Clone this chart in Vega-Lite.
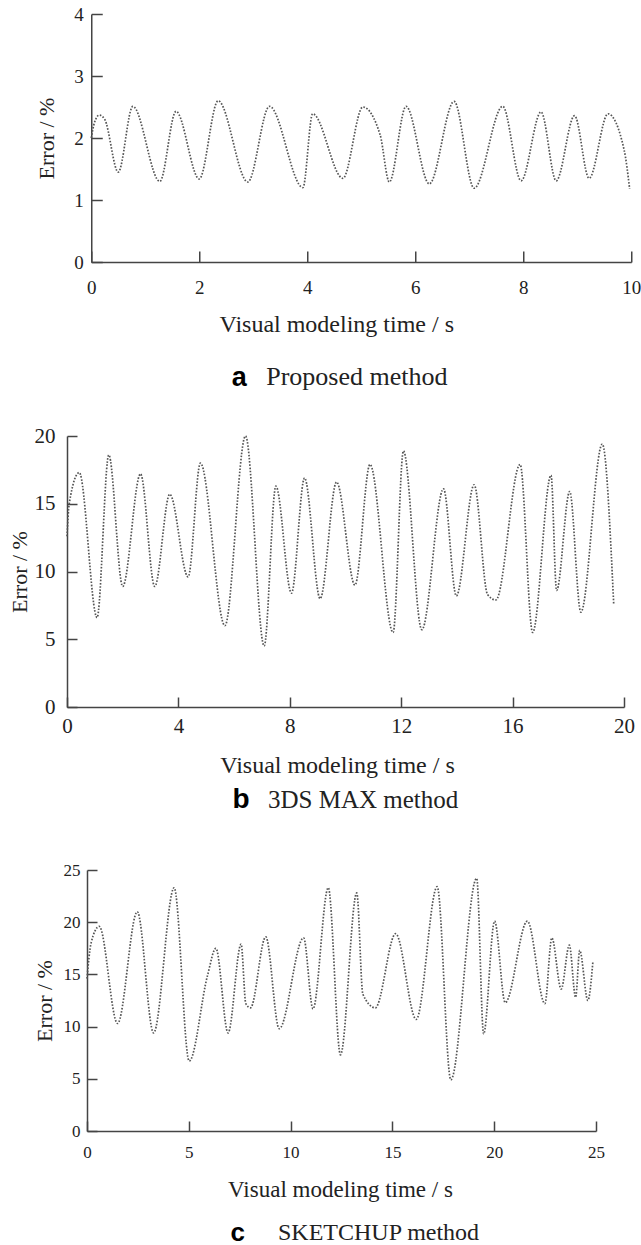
{
  "$schema": "https://vega.github.io/schema/vega-lite/v6.json",
  "background": "white",
  "padding": {"left": 8, "top": 5, "right": 0, "bottom": 0},
  "config": {
    "view": {"stroke": null},
    "font": "Liberation Serif",
    "axis": {
      "grid": false,
      "domainColor": "#444",
      "domainWidth": 1.5,
      "tickColor": "#444",
      "tickWidth": 1.5,
      "labelFont": "Liberation Serif",
      "titleFont": "Liberation Serif",
      "labelColor": "#222",
      "titleColor": "#222",
      "titleFontWeight": "normal",
      "labelFlush": false,
      "labelOverlap": false,
      "labelBound": false
    },
    "line": {"interpolate": "monotone", "color": "#555", "strokeWidth": 1.7, "strokeDash": [1.6, 1.6]}
  },
  "datasets": {
    "a": [
      {"t": 0, "e": 2.0}, {"t": 0.06, "e": 2.25}, {"t": 0.15, "e": 2.37}, {"t": 0.25, "e": 2.3},
      {"t": 0.5, "e": 1.45}, {"t": 0.77, "e": 2.51}, {"t": 1.27, "e": 1.3}, {"t": 1.57, "e": 2.43},
      {"t": 2.0, "e": 1.34}, {"t": 2.35, "e": 2.6}, {"t": 2.9, "e": 1.29}, {"t": 3.3, "e": 2.51},
      {"t": 3.92, "e": 1.2}, {"t": 4.1, "e": 2.39}, {"t": 4.66, "e": 1.35}, {"t": 5.03, "e": 2.5},
      {"t": 5.35, "e": 2.05}, {"t": 5.52, "e": 1.29}, {"t": 5.83, "e": 2.51}, {"t": 6.26, "e": 1.26},
      {"t": 6.72, "e": 2.59}, {"t": 7.09, "e": 1.19}, {"t": 7.62, "e": 2.51}, {"t": 7.96, "e": 1.31},
      {"t": 8.33, "e": 2.42}, {"t": 8.61, "e": 1.31}, {"t": 8.95, "e": 2.36}, {"t": 9.22, "e": 1.35},
      {"t": 9.57, "e": 2.39}, {"t": 9.87, "e": 1.8}, {"t": 9.97, "e": 1.18}
    ],
    "b": [
      {"t": 0, "e": 12.6}, {"t": 0.08, "e": 15.0}, {"t": 0.44, "e": 17.3}, {"t": 1.08, "e": 6.6},
      {"t": 1.5, "e": 18.6}, {"t": 2.0, "e": 8.9}, {"t": 2.64, "e": 17.2}, {"t": 3.15, "e": 8.9},
      {"t": 3.69, "e": 15.7}, {"t": 4.35, "e": 9.6}, {"t": 4.79, "e": 18.0}, {"t": 5.67, "e": 6.0},
      {"t": 6.41, "e": 20.0}, {"t": 7.08, "e": 4.5}, {"t": 7.5, "e": 16.3}, {"t": 8.06, "e": 8.4},
      {"t": 8.53, "e": 16.9}, {"t": 9.09, "e": 8.0}, {"t": 9.68, "e": 16.6}, {"t": 10.34, "e": 9.0},
      {"t": 10.88, "e": 17.9}, {"t": 11.71, "e": 5.5}, {"t": 12.08, "e": 18.9}, {"t": 12.74, "e": 5.7},
      {"t": 13.52, "e": 16.1}, {"t": 13.98, "e": 8.2}, {"t": 14.62, "e": 16.4}, {"t": 15.1, "e": 8.3},
      {"t": 15.4, "e": 7.9}, {"t": 16.27, "e": 17.9}, {"t": 16.72, "e": 5.5}, {"t": 17.38, "e": 17.1},
      {"t": 17.58, "e": 8.6}, {"t": 18.05, "e": 15.9}, {"t": 18.45, "e": 7.0}, {"t": 19.22, "e": 19.4},
      {"t": 19.63, "e": 7.6}
    ],
    "c": [
      {"t": 0, "e": 14.6}, {"t": 0.2, "e": 18.0}, {"t": 0.6, "e": 19.6}, {"t": 1.5, "e": 10.3},
      {"t": 2.47, "e": 21.0}, {"t": 3.27, "e": 9.4}, {"t": 4.28, "e": 23.3}, {"t": 5.02, "e": 6.7},
      {"t": 5.92, "e": 14.9}, {"t": 6.33, "e": 17.5}, {"t": 6.93, "e": 9.4}, {"t": 7.57, "e": 17.9},
      {"t": 7.8, "e": 12.2}, {"t": 8.03, "e": 11.8}, {"t": 8.78, "e": 18.6}, {"t": 9.44, "e": 9.8},
      {"t": 10.64, "e": 18.5}, {"t": 11.1, "e": 11.7}, {"t": 11.85, "e": 23.3}, {"t": 12.45, "e": 7.3},
      {"t": 13.25, "e": 22.8}, {"t": 13.55, "e": 13.1}, {"t": 14.16, "e": 11.8}, {"t": 15.16, "e": 18.9},
      {"t": 16.17, "e": 10.7}, {"t": 17.2, "e": 23.4}, {"t": 17.87, "e": 4.9}, {"t": 19.14, "e": 24.2},
      {"t": 19.48, "e": 9.3}, {"t": 20.02, "e": 20.1}, {"t": 20.54, "e": 12.3}, {"t": 21.63, "e": 20.1},
      {"t": 22.49, "e": 12.2}, {"t": 22.83, "e": 18.5}, {"t": 23.29, "e": 13.6}, {"t": 23.69, "e": 17.8},
      {"t": 24.0, "e": 12.8}, {"t": 24.2, "e": 17.3}, {"t": 24.6, "e": 12.5}, {"t": 24.85, "e": 16.3}
    ]
  },
  "center": true,
  "spacing": 35,
  "vconcat": [
    {
      "width": 540,
      "height": 248,
      "data": {"name": "a"},
      "layer": [
        {
          "mark": {"type": "line"},
          "encoding": {
            "x": {
              "field": "t", "type": "quantitative",
              "scale": {"domain": [0, 10], "nice": false, "zero": false},
              "axis": {"title": "Visual modeling time / s", "titleX": 245, "values": [0, 2, 4, 6, 8, 10], "tickSize": -11, "labelPadding": 27.5, "labelFontSize": 19, "titleFontSize": 24, "titlePadding": 15}
            },
            "y": {
              "field": "e", "type": "quantitative",
              "scale": {"domain": [0, 4], "nice": false},
              "axis": {"title": "Error / %", "format": "d", "values": [0, 1, 2, 3, 4], "tickSize": -11, "labelPadding": 19, "labelFontSize": 19, "titleFontSize": 22, "titlePadding": 15.5}
            }
          }
        },
        {
          "mark": {"type": "line", "opacity": 0},
          "encoding": {
            "x": {
              "field": "t", "type": "quantitative",
              "axis": {"orient": "bottom", "domain": false, "ticks": false, "labels": false, "title": "a", "titleX": 140, "titleY": 123, "titleAlign": "left", "titleBaseline": "alphabetic", "titleFont": "Liberation Sans", "titleFontWeight": "bold", "titleFontSize": 27, "titleColor": "#000"}
            },
            "y": {"field": "e", "type": "quantitative"}
          }
        }
      ],
      "resolve": {"axis": {"x": "independent"}},
      "title": {
        "text": "Proposed method",
        "orient": "bottom", "anchor": "start", "frame": "group", "baseline": "alphabetic",
        "dx": 175, "offset": -5.4,
        "font": "Liberation Serif", "fontSize": 26, "fontWeight": "normal", "color": "#222"
      }
    },
    {
      "width": 557,
      "height": 271,
      "data": {"name": "b"},
      "layer": [
        {
          "mark": {"type": "line"},
          "encoding": {
            "x": {
              "field": "t", "type": "quantitative",
              "scale": {"domain": [0, 20], "nice": false, "zero": false},
              "axis": {"title": "Visual modeling time / s", "titleX": 270, "values": [0, 4, 8, 12, 16, 20], "tickSize": -10, "labelPadding": 18.3, "labelFontSize": 21, "titleFontSize": 24, "titlePadding": 16.7}
            },
            "y": {
              "field": "e", "type": "quantitative",
              "scale": {"domain": [0, 20], "nice": false},
              "axis": {"title": "Error / %", "format": "d", "values": [0, 5, 10, 15, 20], "tickSize": -10, "labelPadding": 22, "labelFontSize": 21, "titleFontSize": 22, "titlePadding": 3}
            }
          }
        },
        {
          "mark": {"type": "line", "opacity": 0},
          "encoding": {
            "x": {
              "field": "t", "type": "quantitative",
              "axis": {"orient": "bottom", "domain": false, "ticks": false, "labels": false, "title": "b", "titleX": 165, "titleY": 100.7, "titleAlign": "left", "titleBaseline": "alphabetic", "titleFont": "Liberation Sans", "titleFontWeight": "bold", "titleFontSize": 28, "titleColor": "#000"}
            },
            "y": {
              "field": "e", "type": "quantitative",
              "axis": {"orient": "right", "domain": true, "domainOpacity": 0, "ticks": false, "labels": false, "title": null, "offset": 41}
            }
          }
        }
      ],
      "resolve": {"axis": {"x": "independent", "y": "independent"}},
      "title": {
        "text": ["3DS MAX method", ""],
        "lineHeight": 12,
        "orient": "bottom", "anchor": "start", "frame": "group", "baseline": "alphabetic",
        "dx": 201, "offset": -5.6,
        "font": "Liberation Serif", "fontSize": 25, "fontWeight": "normal", "color": "#222"
      }
    },
    {
      "width": 509,
      "height": 261,
      "data": {"name": "c"},
      "layer": [
        {
          "mark": {"type": "line"},
          "encoding": {
            "x": {
              "field": "t", "type": "quantitative",
              "scale": {"domain": [0, 25], "nice": false, "zero": false},
              "axis": {"title": "Visual modeling time / s", "titleX": 253, "values": [0, 5, 10, 15, 20, 25], "tickSize": -10, "labelPadding": 23.8, "labelFontSize": 17, "titleFontSize": 23, "titlePadding": 18}
            },
            "y": {
              "field": "e", "type": "quantitative",
              "scale": {"domain": [0, 25], "nice": false},
              "axis": {"title": "Error / %", "format": "d", "values": [0, 5, 10, 15, 20, 25], "tickSize": -10, "labelPadding": 17, "labelFontSize": 17, "titleFontSize": 22, "titlePadding": 7}
            }
          }
        },
        {
          "mark": {"type": "line", "opacity": 0},
          "encoding": {
            "x": {
              "field": "t", "type": "quantitative",
              "axis": {"orient": "bottom", "domain": false, "ticks": false, "labels": false, "title": "c", "titleX": 143, "titleY": 109, "titleAlign": "left", "titleBaseline": "alphabetic", "titleFont": "Liberation Sans", "titleFontWeight": "bold", "titleFontSize": 26, "titleColor": "#000"}
            },
            "y": {
              "field": "e", "type": "quantitative",
              "axis": {"orient": "right", "domain": true, "domainOpacity": 0, "ticks": false, "labels": false, "title": null, "offset": 49}
            }
          }
        }
      ],
      "resolve": {"axis": {"x": "independent", "y": "independent"}},
      "title": {
        "text": "SKETCHUP method",
        "orient": "bottom", "anchor": "start", "frame": "group", "baseline": "alphabetic",
        "dx": 191, "offset": -5.2,
        "font": "Liberation Serif", "fontSize": 24, "fontWeight": "normal", "color": "#222"
      }
    }
  ]
}
